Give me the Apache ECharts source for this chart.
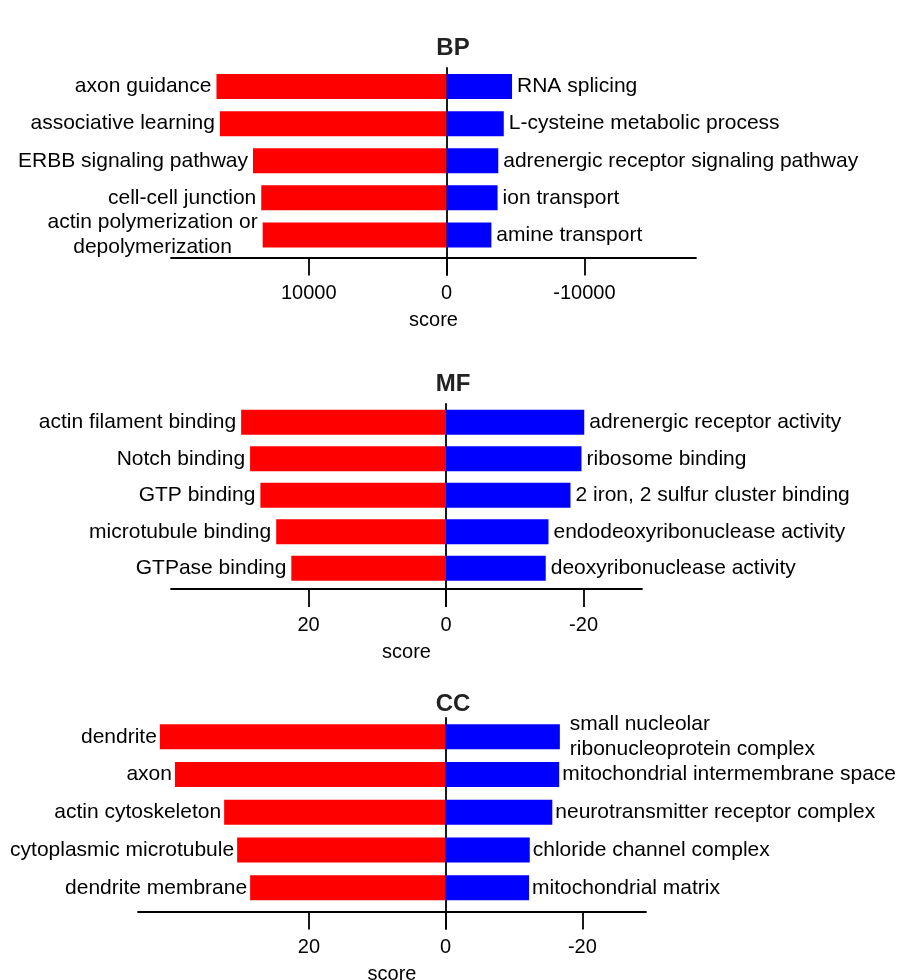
<!DOCTYPE html>
<html>
<head>
<meta charset="utf-8">
<script src="https://cdn.jsdelivr.net/npm/echarts@6/dist/echarts.min.js"></script>
<style>
  html, body { margin: 0; padding: 0; background: #ffffff; }
  #chart { width: 898px; height: 980px; }
</style>
</head>
<body>
<div id="chart"></div>
<script>
// Biological Process
const bpUpTerms = ['axon guidance', 'associative learning', 'ERBB signaling pathway', 'cell-cell junction', 'actin polymerization or\ndepolymerization'];
const bpUpScores = [16700, 16450, 14050, 13450, 13350];
const bpDownTerms = ['RNA splicing', 'L-cysteine metabolic process', 'adrenergic receptor signaling pathway', 'ion transport', 'amine transport'];
const bpDownScores = [-4750, -4150, -3750, -3700, -3250];
const bpTicks = [10000, 0, -10000];

// Molecular Function
const mfUpTerms = ['actin filament binding', 'Notch binding', 'GTP binding', 'microtubule binding', 'GTPase binding'];
const mfUpScores = [29.8, 28.5, 27.0, 24.7, 22.5];
const mfDownTerms = ['adrenergic receptor activity', 'ribosome binding', '2 iron, 2 sulfur cluster binding', 'endodeoxyribonuclease activity', 'deoxyribonuclease activity'];
const mfDownScores = [-20.1, -19.7, -18.1, -14.9, -14.5];
const mfTicks = [20, 0, -20];

// Cellular Component
const ccUpTerms = ['dendrite', 'axon', 'actin cytoskeleton', 'cytoplasmic microtubule', 'dendrite membrane'];
const ccUpScores = [41.8, 39.6, 32.4, 30.5, 28.6];
const ccDownTerms = ['small nucleolar\nribonucleoprotein complex', 'mitochondrial intermembrane space', 'neurotransmitter receptor complex', 'chloride channel complex', 'mitochondrial matrix'];
const ccDownScores = [-16.7, -16.6, -15.6, -12.3, -12.2];
const ccTicks = [20, 0, -20];

const FONT = '"Liberation Sans", Arial, Helvetica, sans-serif';
const RED = '#ff0000';
const BLUE = '#0000ff';
const INK = '#000000';

// Layout of the three stacked panels (pixels) and axis extents
const panels = [
  { title: 'BP', upTerms: bpUpTerms, upScores: bpUpScores, downTerms: bpDownTerms, downScores: bpDownScores, ticks: bpTicks,
    min: -18100, max: 20000, left: 171, right: 202, top: 68, height: 185.5, offset: 4, titleTop: 31, labelDist: 5 },
  { title: 'MF', upTerms: mfUpTerms, upScores: mfUpScores, downTerms: mfDownTerms, downScores: mfDownScores, ticks: mfTicks,
    min: -28.5, max: 40, left: 171, right: 256, top: 404, height: 182.5, offset: 2.5, titleTop: 367, labelDist: 5 },
  { title: 'CC', upTerms: ccUpTerms, upScores: ccUpScores, downTerms: ccDownTerms, downScores: ccDownScores, ticks: ccTicks,
    min: -29.3, max: 45, left: 138, right: 252, top: 718, height: 188.6, offset: 5, titleTop: 687, labelDist: 3 }
];

function upLabel(text) {
  // multi-line terms on the left side are centred line by line
  return text.split('\n').map(function (s) { return '{c|' + s + '}'; }).join('\n');
}

const grid = [], xAxis = [], yAxis = [], series = [], title = [];
panels.forEach(function (p, i) {
  grid.push({ left: p.left, right: p.right, top: p.top, height: p.height, containLabel: false, outerBoundsMode: 'none' });
  title.push({
    text: p.title, left: 448, top: p.titleTop, textAlign: 'center',
    textStyle: { fontFamily: FONT, fontSize: 24, fontWeight: 'bold', color: '#222' }
  });
  xAxis.push({
    gridIndex: i, type: 'value', inverse: true, min: p.min, max: p.max, position: 'bottom', offset: p.offset,
    axisLine: { show: true, onZero: false, lineStyle: { color: INK, width: 1.8 } },
    axisTick: { show: true, customValues: p.ticks, length: 18, lineStyle: { color: INK, width: 1.8 } },
    axisLabel: { show: true, customValues: p.ticks, margin: 26, fontFamily: FONT, fontSize: 20, color: INK,
      formatter: function (v) { return String(v); } },
    splitLine: { show: false },
    name: 'score', nameLocation: 'middle', nameGap: 53,
    nameTextStyle: { fontFamily: FONT, fontSize: 20, color: INK }
  });
  // carries the zero tick up to the bottom of the bar area so the centre line is continuous
  xAxis.push({
    gridIndex: i, type: 'value', inverse: true, min: p.min, max: p.max, position: 'bottom', offset: 0,
    axisLine: { show: false },
    axisTick: { show: true, customValues: [0], length: p.offset + 18, lineStyle: { color: INK, width: 1.8 } },
    axisLabel: { show: false },
    splitLine: { show: false }
  });
  yAxis.push({
    gridIndex: i, type: 'category', inverse: true, data: p.upTerms,
    axisLine: { show: true, onZero: true, lineStyle: { color: INK, width: 1.8 } },
    axisTick: { show: false }, axisLabel: { show: false }, splitLine: { show: false }
  });
  series.push({
    type: 'bar', name: p.title + ' up', xAxisIndex: 2 * i, yAxisIndex: i,
    data: p.upScores, barWidth: 25, barGap: '-100%',
    itemStyle: { color: RED }, z: 1,
    label: {
      show: true, position: 'left', distance: p.labelDist, fontFamily: FONT, fontSize: 21, color: INK,
      formatter: function (prm) { return upLabel(p.upTerms[prm.dataIndex]); },
      rich: { c: { align: 'center', fontFamily: FONT, fontSize: 21, lineHeight: 25, color: INK } }
    }
  });
  series.push({
    type: 'bar', name: p.title + ' down', xAxisIndex: 2 * i, yAxisIndex: i,
    data: p.downScores.map(function (v, k) {
      return p.downTerms[k].indexOf('\n') >= 0 ? { value: v, label: { distance: 10 } } : v;
    }),
    barWidth: 25, barGap: '-100%',
    itemStyle: { color: BLUE }, z: 1,
    label: {
      show: true, position: 'right', distance: p.labelDist, fontFamily: FONT, fontSize: 21, lineHeight: 25, color: INK,
      formatter: function (prm) { return p.downTerms[prm.dataIndex]; }
    }
  });
});

const chart = echarts.init(document.getElementById('chart'), null, { renderer: 'canvas' });
chart.setOption({
  backgroundColor: '#ffffff',
  animation: false,
  title: title,
  grid: grid,
  xAxis: xAxis,
  yAxis: yAxis,
  series: series
});
</script>
</body>
</html>
